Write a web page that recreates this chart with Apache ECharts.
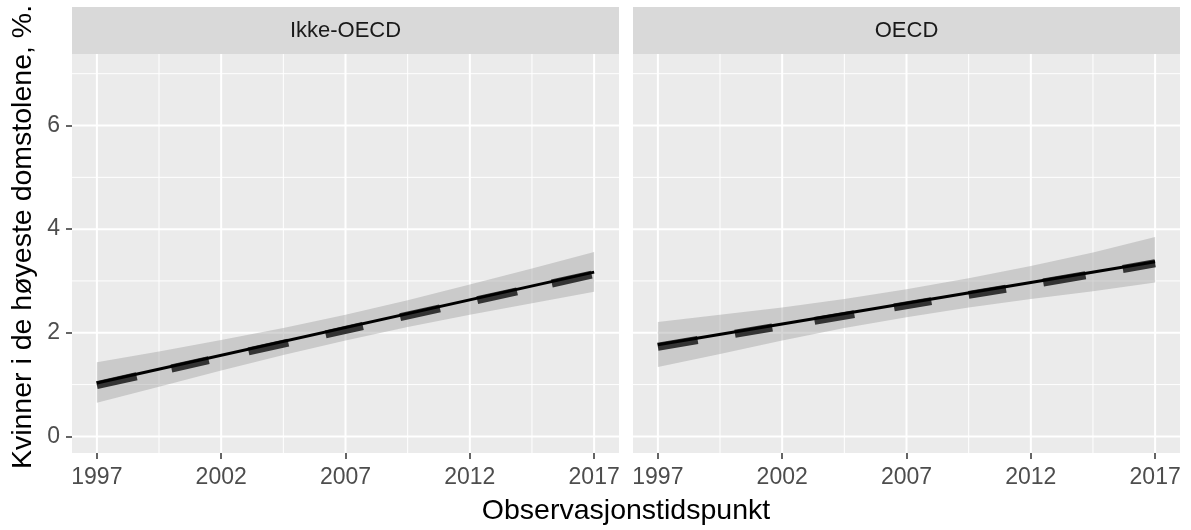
<!DOCTYPE html>
<html><head><meta charset="utf-8">
<script src="https://cdn.jsdelivr.net/npm/echarts@6/dist/echarts.min.js"></script>
<style>html,body{margin:0;padding:0;background:#fff}#c{width:1191px;height:530px}</style>
</head><body><div id="c"></div>
<script>
const panels = ['Ikke-OECD', 'OECD'];
const xTicks = [1997, 2002, 2007, 2012, 2017];
const xMinor = [1999.5, 2004.5, 2009.5, 2014.5];
const yTicks = [0, 2, 4, 6];
const yMinor = [1, 3, 5, 7];

// regression line endpoints
const lineYears = [1997, 2017];
const ikkeLine = [1.03, 3.17];
const oecdLine = [1.77, 3.37];

// confidence band
const bandYears = [1997, 1999.5, 2002, 2004.5, 2007, 2009.5, 2012, 2014.5, 2017];
const ikkeUpper = [1.43, 1.64, 1.86, 2.09, 2.35, 2.63, 2.93, 3.24, 3.56];
const ikkeLower = [0.65, 0.96, 1.27, 1.57, 1.85, 2.11, 2.35, 2.57, 2.79];
const oecdUpper = [2.21, 2.35, 2.49, 2.65, 2.84, 3.05, 3.29, 3.55, 3.85];
const oecdLower = [1.34, 1.59, 1.85, 2.09, 2.30, 2.49, 2.65, 2.80, 2.97];

// dark observation segments
const ikkeSegStart = [1997, 2000, 2003.1, 2006.2, 2009.2, 2012.3, 2015.3];
const ikkeSegEnd   = [1998.6, 2001.5, 2004.7, 2007.7, 2010.8, 2013.9, 2016.9];
const ikkeSegY0    = [1.01, 1.33, 1.66, 1.99, 2.32, 2.65, 2.97];
const ikkeSegY1    = [1.18, 1.49, 1.83, 2.15, 2.49, 2.82, 3.14];
const oecdSegStart = [1997, 2000.1, 2003.3, 2006.5, 2009.5, 2012.5, 2015.7];
const oecdSegEnd   = [1998.6, 2001.6, 2004.9, 2008.0, 2011.0, 2014.2, 2017.0];
const oecdSegY0    = [1.75, 2.00, 2.25, 2.51, 2.75, 2.99, 3.25];
const oecdSegY1    = [1.88, 2.12, 2.38, 2.63, 2.87, 3.13, 3.36];

const FONT = "'Liberation Sans', Arial, sans-serif";
const X_MIN = 1996, X_MAX = 2018, Y_MIN = -0.32, Y_MAX = 7.38;

const panelData = [
  {line: ikkeLine, up: ikkeUpper, lo: ikkeLower, s0: ikkeSegStart, s1: ikkeSegEnd, y0: ikkeSegY0, y1: ikkeSegY1},
  {line: oecdLine, up: oecdUpper, lo: oecdLower, s0: oecdSegStart, s1: oecdSegEnd, y0: oecdSegY0, y1: oecdSegY1}
];

const grids = [
  {left: 72, top: 54, width: 547, height: 399},
  {left: 633, top: 54, width: 547, height: 399}
];

const xAxes = [], yAxes = [], series = [], graphics = [];
grids.forEach((g, i) => {
  xAxes.push({
    type: 'value', gridIndex: i, min: X_MIN, max: X_MAX, position: 'bottom',
    axisLine: {show: false, onZero: false}, splitLine: {show: false}, splitArea: {show: false},
    minorTick: {show: false}, minorSplitLine: {show: false}, axisPointer: {show: false},
    axisTick: {show: true, inside: false, length: 6, customValues: xTicks, lineStyle: {color: '#333333', width: 1.5}},
    axisLabel: {show: true, customValues: xTicks, color: '#4D4D4D', fontSize: 23, fontFamily: FONT, margin: 13,
      formatter: v => String(v)}
  });
  yAxes.push({
    type: 'value', gridIndex: i, min: Y_MIN, max: Y_MAX, position: 'left',
    axisLine: {show: false, onZero: false}, splitLine: {show: false}, splitArea: {show: false},
    minorTick: {show: false}, minorSplitLine: {show: false}, axisPointer: {show: false},
    axisTick: {show: i === 0, inside: false, length: 6, customValues: yTicks, lineStyle: {color: '#333333', width: 1.5}},
    axisLabel: {show: i === 0, customValues: yTicks, color: '#4D4D4D', fontSize: 23, fontFamily: FONT, margin: 12,
      formatter: v => String(v)}
  });
  // panel background
  graphics.push({type: 'rect', z: -10, shape: {x: g.left, y: g.top, width: g.width, height: g.height}, style: {fill: '#EBEBEB'}});
  // strip
  graphics.push({type: 'rect', z: -10, shape: {x: g.left, y: 7, width: g.width, height: 47}, style: {fill: '#D9D9D9'}});
  graphics.push({type: 'text', z: 10, x: g.left + g.width / 2, y: 31,
    style: {text: panels[i], fill: '#1A1A1A', font: '22px ' + FONT, textAlign: 'center', textVerticalAlign: 'middle'}});

  // gridlines (one item drawing all)
  series.push({
    type: 'custom', xAxisIndex: i, yAxisIndex: i, z: 1, silent: true,
    data: [[xTicks[0], yTicks[0]]],
    renderItem: (params, api) => {
      const cs = params.coordSys;
      const children = [];
      const vline = (v, w) => {
        const x = api.coord([v, 0])[0];
        children.push({type: 'line', shape: {x1: x, y1: cs.y, x2: x, y2: cs.y + cs.height}, style: {stroke: '#FFFFFF', lineWidth: w}});
      };
      const hline = (v, w) => {
        const y = api.coord([X_MIN, v])[1];
        children.push({type: 'line', shape: {x1: cs.x, y1: y, x2: cs.x + cs.width, y2: y}, style: {stroke: '#FFFFFF', lineWidth: w}});
      };
      xMinor.forEach(v => vline(v, 1));
      yMinor.forEach(v => hline(v, 1));
      xTicks.forEach(v => vline(v, 2));
      yTicks.forEach(v => hline(v, 2));
      return {type: 'group', children};
    }
  });

  const pd = panelData[i];
  // ribbon
  series.push({
    type: 'custom', xAxisIndex: i, yAxisIndex: i, z: 2, silent: true,
    data: [[bandYears[0], pd.up[0]]],
    renderItem: (params, api) => {
      const pts = [];
      bandYears.forEach((yr, k) => pts.push(api.coord([yr, pd.up[k]])));
      for (let k = bandYears.length - 1; k >= 0; k--) pts.push(api.coord([bandYears[k], pd.lo[k]]));
      return {type: 'polygon', shape: {points: pts}, style: {fill: 'rgba(153,153,153,0.4)'}};
    }
  });
  // dark segments
  series.push({
    type: 'custom', xAxisIndex: i, yAxisIndex: i, z: 3, silent: true,
    data: pd.s0.map((s, k) => [s, pd.y0[k], pd.s1[k], pd.y1[k]]),
    encode: {x: [0, 2], y: [1, 3]},
    renderItem: (params, api) => {
      const a = api.coord([api.value(0), api.value(1)]);
      const b = api.coord([api.value(2), api.value(3)]);
      return {type: 'line', shape: {x1: a[0], y1: a[1] + 1, x2: b[0], y2: b[1] + 1},
        style: {stroke: '#333333', lineWidth: 8}};
    }
  });
  // regression line
  series.push({
    type: 'line', xAxisIndex: i, yAxisIndex: i, z: 4, silent: true,
    data: lineYears.map((yr, k) => [yr, pd.line[k]]),
    symbol: 'none', lineStyle: {color: '#000000', width: 3}
  });
});

graphics.push({type: 'text', x: 626, y: 511,
  style: {text: 'Observasjonstidspunkt', fill: '#000000', font: '28.5px ' + FONT, textAlign: 'center', textVerticalAlign: 'middle'}});
graphics.push({type: 'text', x: 23, y: 237, rotation: Math.PI / 2,
  style: {text: 'Kvinner i de høyeste domstolene, %.', fill: '#000000', font: '28.5px ' + FONT, textAlign: 'center', textVerticalAlign: 'middle'}});

const chart = echarts.init(document.getElementById('c'), null, {renderer: 'canvas'});
chart.setOption({
  animation: false,
  backgroundColor: '#FFFFFF',
  grid: grids,
  xAxis: xAxes,
  yAxis: yAxes,
  series: series,
  graphic: graphics
});
</script>
</body></html>
